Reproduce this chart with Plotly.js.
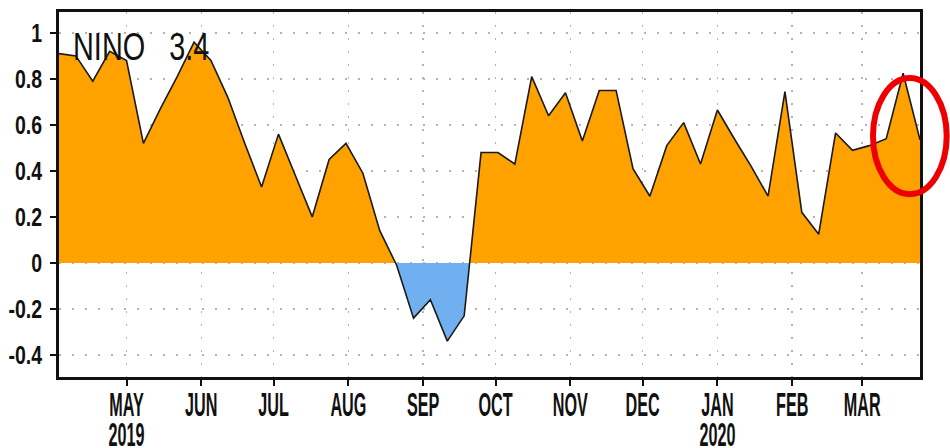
<!DOCTYPE html>
<html>
<head>
<meta charset="utf-8">
<script src="https://cdn.plot.ly/plotly-3.0.1.min.js"></script>
<style>
  html, body { margin: 0; padding: 0; background: #ffffff; }
  #chart { width: 950px; height: 448px; }
</style>
</head>
<body>
<div id="chart"></div>
<script>
// Weekly Nino 3.4 SST anomaly (weeks centred on Wednesdays)
const weekDates = [
  "2019-04-03","2019-04-10","2019-04-17","2019-04-24",
  "2019-05-01","2019-05-08","2019-05-15","2019-05-22","2019-05-29",
  "2019-06-05","2019-06-12","2019-06-19","2019-06-26",
  "2019-07-03","2019-07-10","2019-07-17","2019-07-24","2019-07-31",
  "2019-08-07","2019-08-14","2019-08-21","2019-08-28",
  "2019-09-04","2019-09-11","2019-09-18","2019-09-25",
  "2019-10-02","2019-10-09","2019-10-16","2019-10-23","2019-10-30",
  "2019-11-06","2019-11-13","2019-11-20","2019-11-27",
  "2019-12-04","2019-12-11","2019-12-18","2019-12-25",
  "2020-01-01","2020-01-08","2020-01-15","2020-01-22","2020-01-29",
  "2020-02-05","2020-02-12","2020-02-19","2020-02-26",
  "2020-03-04","2020-03-11","2020-03-18","2020-03-25"
];
const anomaly = [
  0.91, 0.90, 0.79, 0.92,
  0.88, 0.52, 0.67, 0.81, 0.96,
  0.88, 0.72, 0.52, 0.33,
  0.56, 0.38, 0.20, 0.45, 0.52,
  0.39, 0.14, -0.01, -0.24,
  -0.16, -0.34, -0.23, 0.48,
  0.48, 0.43, 0.81, 0.64, 0.74,
  0.53, 0.75, 0.75, 0.41,
  0.29, 0.51, 0.61, 0.43,
  0.665, 0.54, 0.42, 0.29, 0.745,
  0.22, 0.125, 0.565, 0.49,
  0.51, 0.54, 0.825, 0.535
];
const monthTickDates = [
  "2019-05-01","2019-06-01","2019-07-01","2019-08-01","2019-09-01",
  "2019-10-01","2019-11-01","2019-12-01","2020-01-01","2020-02-01","2020-03-01"
];
const monthTickLabels = [
  "MAY<br>2019","JUN","JUL","AUG","SEP","OCT","NOV","DEC","JAN<br>2020","FEB","MAR"
];
const yTickValues = [1, 0.8, 0.6, 0.4, 0.2, 0, -0.2, -0.4];
const yTickLabels = ["1", "0.8", "0.6", "0.4", "0.2", "0", "-0.2", "-0.4"];
const panelTitle = "NINO\u00a0\u00a0\u00a03.4";

const yMin = -0.496, yMax = 1.091;
const ORANGE = "#ffa200";
const BLUE = "#70b0f0";
const zeroFrac = (0 - yMin) / (yMax - yMin);

const FONT = "'Liberation Sans', Arial, sans-serif";

const trace = {
  type: "scatter",
  mode: "lines",
  x: weekDates,
  y: anomaly,
  line: { color: "#1a1a1a", width: 1.6 },
  fill: "tozeroy",
  fillcolor: ORANGE,
  fillgradient: {
    type: "vertical",
    start: yMin,
    stop: yMax,
    colorscale: [[0, BLUE], [zeroFrac, BLUE], [zeroFrac, ORANGE], [1, ORANGE]]
  },
  hoverinfo: "x+y",
  showlegend: false
};

const layout = {
  width: 950,
  height: 448,
  margin: { l: 59, r: 30, t: 12, b: 71 },
  paper_bgcolor: "#ffffff",
  plot_bgcolor: "#ffffff",
  showlegend: false,
  font: { family: FONT, color: "#111111" },
  xaxis: {
    type: "date",
    range: [weekDates[0], weekDates[weekDates.length - 1]],
    tickmode: "array",
    tickvals: monthTickDates,
    ticktext: monthTickLabels,
    ticks: "outside",
    ticklen: 6,
    tickwidth: 2,
    tickcolor: "#111111",
    tickfont: { family: FONT, size: 30, weight: "bold", color: "#111111" },
    ticklabelstandoff: 0,
    showline: true,
    linecolor: "#111111",
    linewidth: 3,
    mirror: true,
    showgrid: true,
    gridcolor: "#b4b4b4",
    gridwidth: 1.5,
    griddash: "2px,11px",
    zeroline: false,
    fixedrange: true
  },
  yaxis: {
    range: [yMin, yMax],
    tickmode: "array",
    tickvals: yTickValues,
    ticktext: yTickLabels,
    ticks: "outside",
    ticklen: 6,
    tickwidth: 2,
    tickcolor: "#111111",
    tickfont: { family: FONT, size: 25, weight: "bold", color: "#111111" },
    ticklabelstandoff: 3,
    showline: true,
    linecolor: "#111111",
    linewidth: 3,
    mirror: true,
    showgrid: true,
    gridcolor: "#b4b4b4",
    gridwidth: 1.5,
    griddash: "2px,11px",
    zeroline: false,
    fixedrange: true
  },
  annotations: [{
    xref: "paper", yref: "paper",
    x: 0.014, y: 0.905,
    xanchor: "left", yanchor: "middle",
    text: panelTitle,
    showarrow: false,
    font: { family: FONT, size: 38, color: "#111111" }
  }],
  shapes: [{
    type: "circle",
    xref: "paper", yref: "paper",
    x0: 0.9454, x1: 1.031,
    y0: 0.501, y1: 0.819,
    line: { color: "#ee0000", width: 6 },
    layer: "above"
  }]
};

// Condense text glyphs (the reference uses a narrow typeface)
function squeeze(selector, sx, sy, ox, oy, shiftY) {
  document.querySelectorAll("#chart " + selector).forEach(function (t) {
    const b = t.getBBox();
    const ax = b.x + ox * b.width, ay = b.y + oy * b.height;
    const base = t.getAttribute("transform") || "";
    t.setAttribute("transform",
      base + " translate(0," + (shiftY || 0) + ") translate(" + ax + "," + ay + ") scale(" + sx + "," + sy + ") translate(" + (-ax) + "," + (-ay) + ")");
  });
}

Plotly.newPlot("chart", [trace], layout, { displayModeBar: false, staticPlot: true }).then(function () {
  // tighter line spacing for two-line month labels
  document.querySelectorAll("#chart .xtick text tspan.line").forEach(function (ts) {
    const dy = ts.getAttribute("dy");
    if (dy && parseFloat(dy) > 0) ts.setAttribute("dy", (parseFloat(dy) / 1.3 * 0.92) + "em");
  });
  squeeze(".xtick text", 0.54, 1.1, 0.5, 0, -9);
  squeeze(".ytick text", 0.78, 1, 1, 0.5, 0);
  squeeze(".annotation-text", 0.76, 1, 0, 0.5, 0);
});
</script>
</body>
</html>
